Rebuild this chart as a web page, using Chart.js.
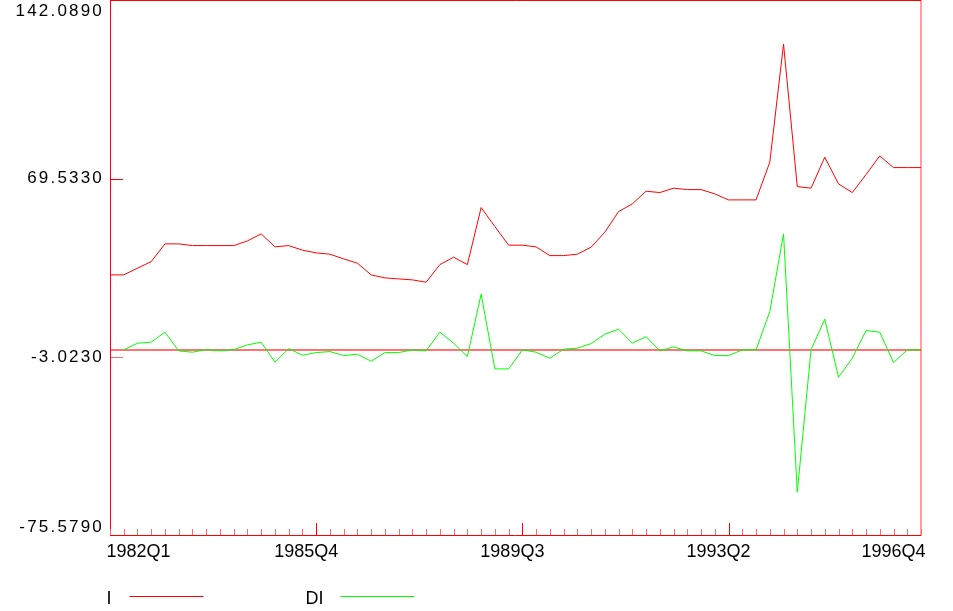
<!DOCTYPE html>
<html>
<head>
<meta charset="utf-8">
<script src="https://cdn.jsdelivr.net/npm/chart.js@4/dist/chart.umd.min.js"></script>
<style>
html,body{margin:0;padding:0;background:#ffffff;overflow:hidden;}
canvas{display:block;}
</style>
</head>
<body>
<canvas id="c" width="953" height="611"></canvas>
<script>
// ---- data ----
const quarters = [
 '1982Q1','1982Q2','1982Q3','1982Q4','1983Q1','1983Q2','1983Q3','1983Q4',
 '1984Q1','1984Q2','1984Q3','1984Q4','1985Q1','1985Q2','1985Q3','1985Q4',
 '1986Q1','1986Q2','1986Q3','1986Q4','1987Q1','1987Q2','1987Q3','1987Q4',
 '1988Q1','1988Q2','1988Q3','1988Q4','1989Q1','1989Q2','1989Q3','1989Q4',
 '1990Q1','1990Q2','1990Q3','1990Q4','1991Q1','1991Q2','1991Q3','1991Q4',
 '1992Q1','1992Q2','1992Q3','1992Q4','1993Q1','1993Q2','1993Q3','1993Q4',
 '1994Q1','1994Q2','1994Q3','1994Q4','1995Q1','1995Q2','1995Q3','1995Q4',
 '1996Q1','1996Q2','1996Q3','1996Q4'
];
const seriesI = [
 30.46, 30.46, 33.18, 35.86, 43.05, 43.05, 42.36, 42.36, 42.36, 42.36,
 44.26, 47.11, 41.83, 42.36, 40.49, 39.39, 38.86, 36.95, 35.21, 30.46,
 29.24, 28.83, 28.43, 27.49, 34.64, 37.64, 34.64, 57.79, 50.07, 42.52,
 42.52, 41.83, 38.29, 38.29, 38.86, 41.71, 47.80, 56.16, 59.29, 64.45,
 63.88, 65.67, 65.10, 65.10, 63.35, 60.91, 60.91, 60.91, 76.22, 124.14,
 66.31, 65.67, 78.25, 67.41, 63.88, 71.19, 78.78, 74.03, 74.03, 74.03
];
const seriesDI = [
 null, 0.00, 2.72, 3.13, 7.19, -0.41, -0.93, 0.12, -0.41, 0.12,
 2.03, 3.13, -4.99, 0.53, -2.15, -1.10, -0.69, -2.31, -1.75, -4.59,
 -1.10, -1.10, 0.00, -0.41, 7.19, 2.72, -2.72, 22.62, -7.72, -7.72,
 0.00, -0.93, -3.37, 0.28, 0.69, 2.56, 6.38, 8.41, 2.72, 5.40,
 -0.41, 1.22, -0.41, -0.41, -2.31, -2.31, 0.00, 0.00, 15.55, 47.11,
 -57.79, 0.00, 12.47, -11.09, -3.37, 7.84, 7.19, -5.16, 0.00, 0.00
];
const seriesNames = ['I', 'DI'];
const seriesColors = ['#ff0000', '#00ff00'];
const xTickLabels = ['1982Q1', '1985Q4', '1989Q3', '1993Q2', '1996Q4'];
const xMajorTicks = ['1985Q4', '1989Q3', '1993Q2'];
const yTickValues = [142.0890, 69.5330, -3.0230, -75.5790];
const yTickLabels = ['142.0890', '69.5330', '-3.0230', '-75.5790'];

const RED = '#ff0000';
const PINK = 'rgb(255,105,105)';

const framePlugin = {
  id: 'eviewsFrame',
  beforeDatasetsDraw(chart) {
    const {ctx, chartArea: a, scales: {y}} = chart;
    const y0 = y.getPixelForValue(0);
    ctx.save();
    ctx.strokeStyle = 'rgb(255,115,115)';
    ctx.lineWidth = 2;
    ctx.beginPath();
    ctx.moveTo(a.left, y0);
    ctx.lineTo(a.right, y0);
    ctx.stroke();
    ctx.restore();
  },
  afterDraw(chart) {
    const {ctx, chartArea: a, scales: {x, y}} = chart;
    ctx.save();
    // frame
    ctx.lineWidth = 1;
    ctx.strokeStyle = RED;
    ctx.beginPath();
    ctx.moveTo(a.left + 0.5, a.top + 0.5);
    ctx.lineTo(a.right, a.top + 0.5);
    ctx.moveTo(a.left + 0.5, a.top);
    ctx.lineTo(a.left + 0.5, a.bottom);
    ctx.moveTo(a.left, a.bottom - 0.5);
    ctx.lineTo(a.right, a.bottom - 0.5);
    ctx.stroke();
    ctx.strokeStyle = 'rgba(255,0,0,0.75)';
    ctx.beginPath();
    ctx.moveTo(a.right, a.top);
    ctx.lineTo(a.right, a.bottom);
    ctx.stroke();

    // x ticks (inside, upward)
    quarters.forEach((q, i) => {
      const px = Math.round(x.getPixelForValue(i)) + 0.5;
      const major = xMajorTicks.includes(q);
      ctx.strokeStyle = major ? RED : PINK;
      ctx.beginPath();
      ctx.moveTo(px, a.bottom - 1);
      ctx.lineTo(px, a.bottom - (major ? 13 : 7));
      ctx.stroke();
    });
    // y ticks (inside, rightward) for interior labels
    yTickValues.forEach((v, k) => {
      if (k === 0 || k === yTickValues.length - 1) return;
      const py = Math.round(y.getPixelForValue(v)) + 0.5;
      ctx.strokeStyle = k === 1 ? RED : PINK;
      ctx.beginPath();
      ctx.moveTo(a.left + 1, py);
      ctx.lineTo(a.left + 13, py);
      ctx.stroke();
    });

    // y labels
    ctx.fillStyle = '#000000';
    ctx.font = '17px "Liberation Sans", Arial, sans-serif';
    if ('letterSpacing' in ctx) ctx.letterSpacing = '2.2px';
    ctx.textAlign = 'right';
    ctx.textBaseline = 'middle';
    yTickValues.forEach((v, k) => {
      let py = y.getPixelForValue(v);
      if (k === 0) py = a.top + 11;
      if (k === yTickValues.length - 1) py = a.bottom - 9;
      ctx.fillText(yTickLabels[k], a.left - 6, py);
    });

    // x labels
    ctx.font = '18px "Liberation Sans", Arial, sans-serif';
    if ('letterSpacing' in ctx) ctx.letterSpacing = '0px';
    ctx.textBaseline = 'alphabetic';
    xTickLabels.forEach((lab, k) => {
      const idx = quarters.indexOf(lab);
      const px = x.getPixelForValue(idx);
      if (k === 0) { ctx.textAlign = 'left'; ctx.fillText(lab, px - 3.5, a.bottom + 20.5); }
      else if (k === xTickLabels.length - 1) { ctx.textAlign = 'right'; ctx.fillText(lab, px + 4.5, a.bottom + 20.5); }
      else { ctx.textAlign = 'center'; ctx.fillText(lab, px - 10, a.bottom + 20.5); }
    });

    // legend
    const legY = 596.5;
    const legX = [106.5, 305.5];
    ctx.font = '18px "Liberation Sans", Arial, sans-serif';
    ctx.textAlign = 'left';
    ctx.textBaseline = 'alphabetic';
    chart.data.datasets.forEach((ds, k) => {
      ctx.fillStyle = '#000000';
      ctx.fillText(ds.label, legX[k], legY + 7);
      const w = ctx.measureText(ds.label).width;
      ctx.strokeStyle = ds.borderColor;
      ctx.lineWidth = 1;
      ctx.beginPath();
      const x0 = legX[k] + (k === 0 ? 23 : 35);
      ctx.moveTo(x0, legY);
      ctx.lineTo(x0 + 74, legY);
      ctx.stroke();
    });
    ctx.restore();
  }
};

new Chart(document.getElementById('c').getContext('2d'), {
  type: 'line',
  data: {
    labels: quarters,
    datasets: [
      { label: seriesNames[0], data: seriesI, borderColor: seriesColors[0], borderWidth: 1,
        pointRadius: 0, tension: 0, fill: false },
      { label: seriesNames[1], data: seriesDI, borderColor: seriesColors[1], borderWidth: 1,
        pointRadius: 0, tension: 0, fill: false }
    ]
  },
  options: {
    responsive: false,
    animation: false,
    events: [],
    layout: { padding: { top: 0, right: 32, left: 0, bottom: 0 } },
    plugins: { legend: { display: false }, tooltip: { enabled: false } },
    scales: {
      x: {
        type: 'category', offset: false,
        grid: { display: false }, border: { display: false },
        ticks: { display: false },
        afterFit(s) { s.height = 75; }
      },
      y: {
        min: yTickValues[3], max: yTickValues[0],
        grid: { display: false }, border: { display: false },
        ticks: { display: false },
        afterFit(s) { s.width = 110; }
      }
    }
  },
  plugins: [framePlugin]
});
</script>
</body>
</html>
